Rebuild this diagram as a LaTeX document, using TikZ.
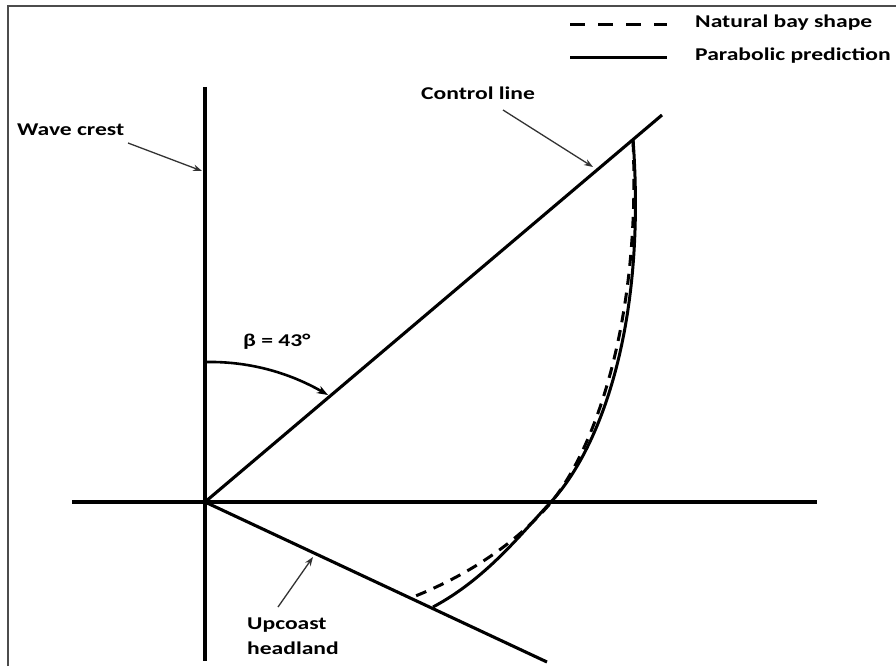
\documentclass[tikz,border=0pt]{standalone}
\usepackage{fontspec}
\newfontfamily\labfont{Carlito}[FakeStretch=1.31]
\usetikzlibrary{arrows.meta}
\tikzset{
  mainline/.style={line width=3.1pt, black},
  curveline/.style={line width=3pt, black},
  dashcurve/.style={line width=3pt, black, dash pattern=on 11pt off 8pt},
  pointer/.style={line width=1.3pt, black!80, -{Stealth[length=9pt,width=6.5pt]}},
  framed/.style={line width=2pt, black!70},
  lab/.style={font=\labfont\bfseries\fontsize{18}{25}\selectfont, inner sep=0pt, anchor=west, align=left}
}
\begin{document}
\begin{tikzpicture}[x=1pt,y=-1pt]
\useasboundingbox (0,0) rectangle (896,666);
\fill[white] (0,0) rectangle (896,666);
% frame
\coordinate (fr1) at (8,666);
\coordinate (fr2) at (8,6);
\coordinate (fr3) at (896,6);
\draw[framed] (fr1) -- (fr2) -- (fr3);
% key points
\coordinate (O) at (205,502);
\coordinate (crestTop) at (205,87);
\coordinate (crestBot) at (205,661);
\coordinate (hzL) at (72,502);
\coordinate (hzR) at (817,502);
\coordinate (ctlEnd) at (662,115);
\coordinate (headEnd) at (547,662);
% main lines
\draw[mainline] (crestTop) -- (crestBot);
\draw[mainline] (hzL) -- (hzR);
\draw[mainline] (O) -- (ctlEnd);
\draw[mainline] (O) -- (headEnd);
% parabolic prediction (solid)
\coordinate (pT) at (633,139);
\coordinate (pC) at (550,503);
\coordinate (pB) at (433,607);
\draw[curveline] (pT) .. controls (647,330) and (598,452) .. (pC)
                      .. controls (520,535) and (485.8,578.8) .. (pB);
% natural bay shape (dashed)
\coordinate (nT) at (633,141);
\coordinate (nC) at (548,506);
\coordinate (nB) at (413,597);
\draw[dashcurve] (nT) .. controls (641,320) and (595,452) .. (nC)
                      .. controls (528,528.5) and (487.4,567.4) .. (nB);
% beta arc
\coordinate (arcS) at (205,362);
\coordinate (arcE) at (328,395);
\draw[line width=2.6pt, -{Stealth[length=11pt,width=8pt]}] (arcS) .. controls (255,361) and (295,376) .. (arcE);
\node[lab] (beta) at (243,342) {β = 43°};
% labels and pointers
\node[lab] (wave) at (17,130) {Wave crest};
\coordinate (waveTip) at (202,171);
\draw[pointer] (128,143) -- (waveTip);
\node[lab] (ctl) at (421,93) {Control line};
\coordinate (ctlTip) at (593,167);
\draw[pointer] (503,110) -- (ctlTip);
\node[lab] (up) at (247,636) {Upcoast\\headland};
\coordinate (upTip) at (313,557);
\draw[pointer] (278,607) -- (upTip);
% legend
\coordinate (lg1a) at (570,25);
\coordinate (lg1b) at (667,25);
\coordinate (lg2a) at (570,58);
\coordinate (lg2b) at (667,58);
\draw[line width=3pt, dash pattern=on 15pt off 13pt] (lg1a) -- (lg1b);
\draw[line width=3pt] (lg2a) -- (lg2b);
\node[lab] (nat) at (695,23) {Natural bay shape};
\node[lab] (par) at (695,56) {Parabolic prediction};
\end{tikzpicture}
\end{document}
